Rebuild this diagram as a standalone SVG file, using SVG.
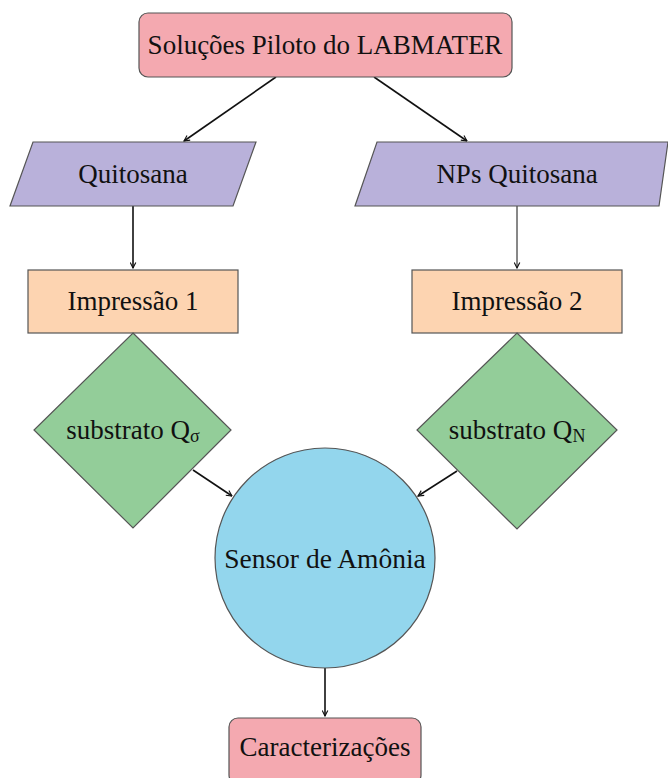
<svg xmlns="http://www.w3.org/2000/svg" width="668" height="778" viewBox="0 0 668 778">
<style>
text{font-family:"Liberation Serif","Times New Roman",serif;font-size:27px;fill:#111;text-anchor:middle;dominant-baseline:central}
.n{stroke:#555;stroke-width:1.2}
.c{stroke:#111;stroke-width:1.6;fill:none;marker-end:url(#ah)}
</style>
<defs>
<marker id="ah" viewBox="0 0 10 10" refX="9" refY="5" markerWidth="7" markerHeight="7" markerUnits="userSpaceOnUse" orient="auto">
<path d="M1,1 L9,5 L1,9" fill="none" stroke="#111" stroke-width="1.6"/>
</marker>
</defs>
<g id="connectors">
<line class="c" x1="276" y1="77" x2="184" y2="141"/>
<line class="c" x1="374" y1="77" x2="467" y2="141"/>
<line class="c" x1="133" y1="206" x2="133" y2="268"/>
<line class="c" x1="517" y1="206" x2="517" y2="268" style="stroke-width:1"/>
<line class="c" x1="193" y1="470" x2="232" y2="496"/>
<line class="c" x1="457" y1="471" x2="418" y2="496"/>
<line class="c" x1="325" y1="668" x2="325" y2="716"/>
<line class="c" x1="133" y1="340" x2="133" y2="333" style="stroke-width:1"/>
<line class="c" x1="517" y1="340" x2="517" y2="333" style="stroke-width:1"/>
</g>
<g id="solucoes">
<rect class="n" x="139" y="13" width="373" height="64" rx="9" fill="#f4a9b0"/>
<text x="325" y="45">Soluções Piloto do LABMATER</text>
</g>
<g id="quitosana">
<polygon class="n" points="33,142 256,142 233,206 10,206" fill="#b9b1da"/>
<text x="133" y="174">Quitosana</text>
</g>
<g id="npsquitosana">
<polygon class="n" points="377,142 668,142 659,206 355,206" fill="#b9b1da"/>
<text x="517" y="174">NPs Quitosana</text>
</g>
<g id="impressao1">
<rect class="n" x="28" y="270" width="210" height="63" fill="#fdd4b1"/>
<text x="133" y="301">Impressão 1</text>
</g>
<g id="impressao2">
<rect class="n" x="412" y="270" width="210" height="63" fill="#fdd4b1"/>
<text x="517" y="301">Impressão 2</text>
</g>
<g id="substratoQs">
<polygon class="n" points="133,333 231,430 133,528 34,430" fill="#93cd99"/>
<text x="133" y="430">substrato Q<tspan font-size="18" dy="6">σ</tspan></text>
</g>
<g id="substratoQN">
<polygon class="n" points="517,333 617,430 517,529 417,430" fill="#93cd99"/>
<text x="517" y="430">substrato Q<tspan font-size="18" dy="6">N</tspan></text>
</g>
<g id="sensor">
<circle class="n" cx="325" cy="558" r="110" fill="#93d6ed"/>
<text x="325" y="558" style="font-size:27.5px">Sensor de Amônia</text>
</g>
<g id="caracterizacoes">
<rect class="n" x="229" y="718" width="192" height="66" rx="9" fill="#f4a9b0"/>
<text x="325" y="747">Caracterizações</text>
</g>
</svg>
